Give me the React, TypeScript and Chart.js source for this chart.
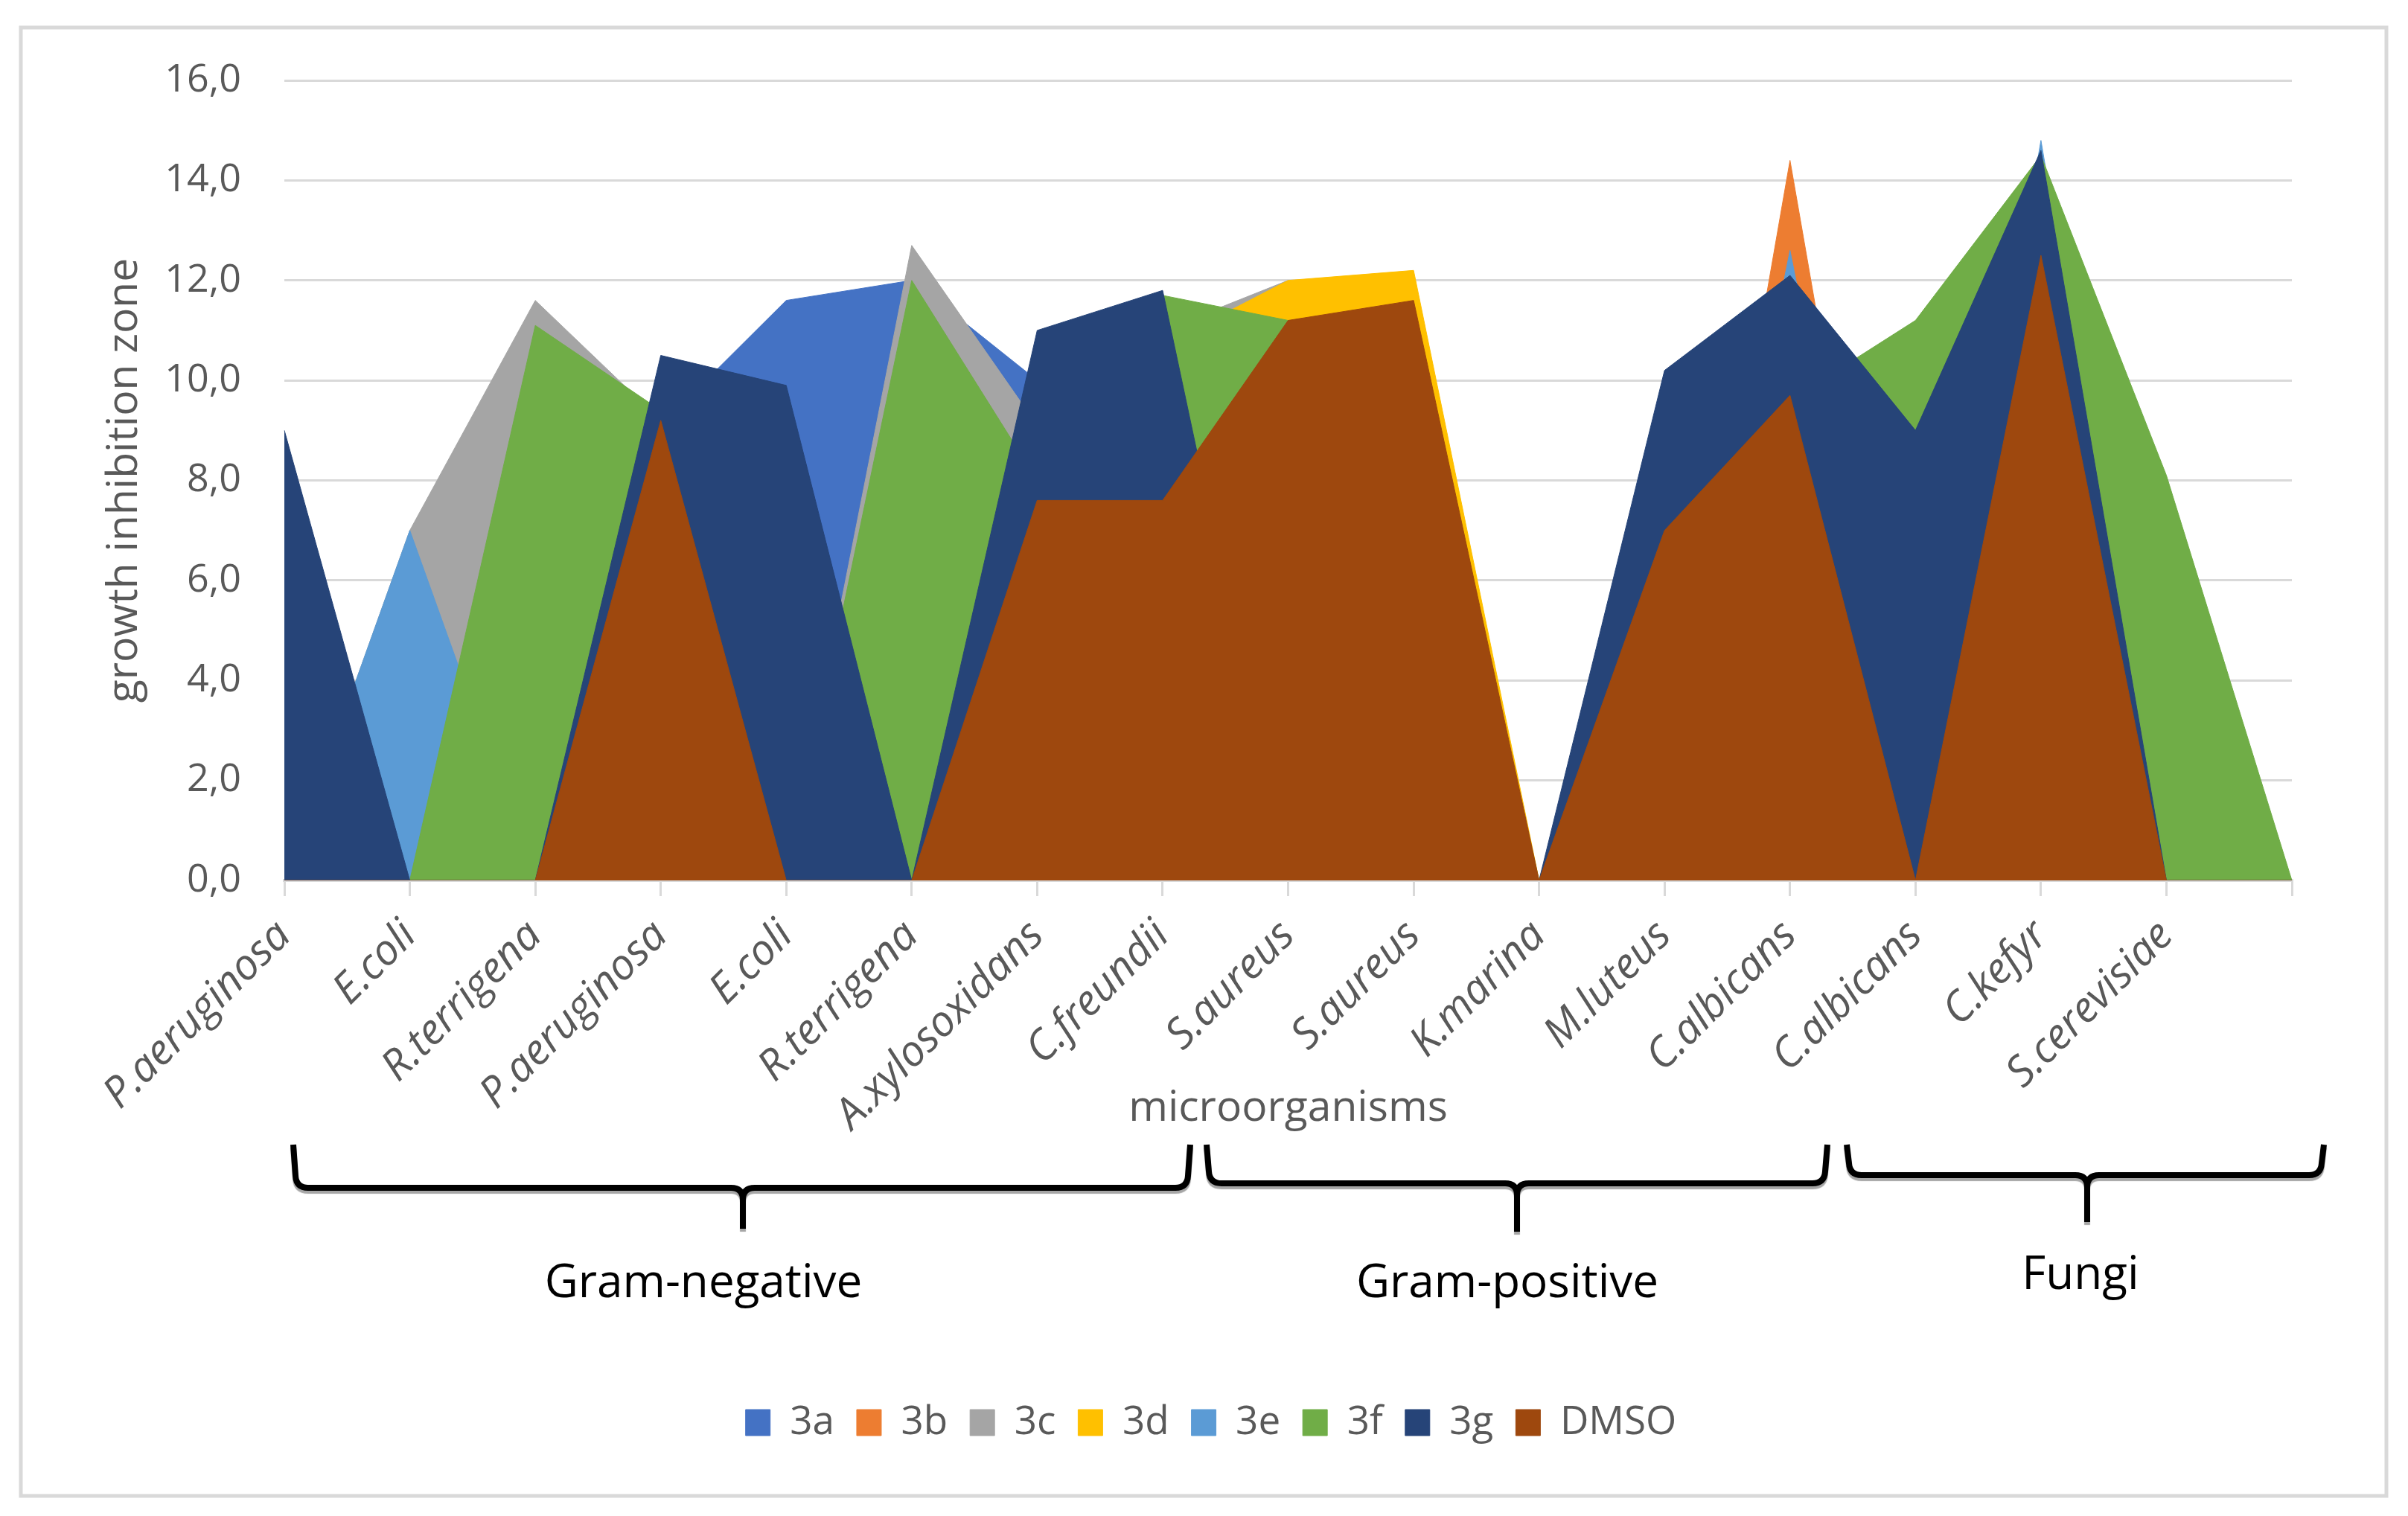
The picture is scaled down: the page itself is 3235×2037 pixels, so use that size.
import React, { useEffect, useRef } from "react";
import { Chart, registerables } from "chart.js";

Chart.register(...registerables);

// categories (last one is the empty end point of the axis)
const categories = [
  "P.aeruginosa", "E.coli", "R.terrigena", "P.aeruginosa", "E.coli", "R.terrigena",
  "A.xylosoxidans", "C.freundii", "S.aureus", "S.aureus", "K.marina", "M.luteus",
  "C.albicans", "C.albicans", "C.kefyr", "S.cerevisiae", "",
];

const seriesNames = ["3a", "3b", "3c", "3d", "3e", "3f", "3g", "DMSO"];
const seriesColors = ["#4472C4", "#ED7D31", "#A5A5A5", "#FFC000", "#5B9BD5", "#70AD47", "#264478", "#9E480E"];

const values3a = [0, 0, 0, 9.1, 11.6, 12.0, 10.0, 0, 0, 0, 0, 0, 0, 0, 0, 0, 0];
const values3b = [0, 0, 0, 0, 0, 0, 0, 0, 0, 0, 0, 0, 14.4, 0, 0, 0, 0];
const values3c = [0, 7.0, 11.6, 9.2, 0, 12.7, 9.1, 11.0, 12.0, 0, 0, 0, 0, 0, 0, 0, 0];
const values3d = [0, 0, 0, 0, 0, 0, 0, 10.7, 12.0, 12.2, 0, 0, 0, 0, 0, 0, 0];
const values3e = [0, 7.0, 0, 0, 0, 0, 0, 0, 0, 0, 0, 0, 12.6, 0, 14.8, 0, 0];
const values3f = [0, 0, 11.1, 9.4, 0, 12.0, 8.0, 11.7, 11.2, 11.0, 0, 9.0, 9.6, 11.2, 14.5, 8.1, 0];
const values3g = [9.0, 0, 0, 10.5, 9.9, 0, 11.0, 11.8, 0, 0, 0, 10.2, 12.1, 9.0, 14.6, 0, 0];
const valuesDMSO = [0, 0, 0, 9.2, 0, 0, 7.6, 7.6, 11.2, 11.6, 0, 7.0, 9.7, 0, 12.5, 0, 0];

const allValues = [values3a, values3b, values3c, values3d, values3e, values3f, values3g, valuesDMSO];

const yTicks = [0, 2, 4, 6, 8, 10, 12, 14, 16];

const groups = [
  { label: "Gram-negative", x1: 394, x2: 1599, yLine: 1596, tipX: 998, tipY: 1651, textX: 945, textY: 1725 },
  { label: "Gram-positive", x1: 1621, x2: 2455, yLine: 1590, tipX: 2038, tipY: 1655, textX: 2025, textY: 1725 },
  { label: "Fungi", x1: 2481, x2: 3122, yLine: 1579, tipX: 2804, tipY: 1642, textX: 2795, textY: 1714 },
];

const FONT = "'Open Sans', 'Noto Sans', sans-serif";
const GREY_TEXT = "#595959";

function drawBrace(ctx: CanvasRenderingContext2D, g: typeof groups[number]) {
  const top = 1538;
  const r = 16;
  ctx.beginPath();
  ctx.moveTo(g.x1, top);
  ctx.lineTo(g.x1 + 3, g.yLine - r);
  ctx.quadraticCurveTo(g.x1 + 4, g.yLine, g.x1 + r + 4, g.yLine);
  ctx.lineTo(g.tipX - r, g.yLine);
  ctx.quadraticCurveTo(g.tipX, g.yLine, g.tipX, g.yLine + r);
  ctx.lineTo(g.tipX, g.tipY);
  ctx.moveTo(g.tipX, g.yLine + r);
  ctx.quadraticCurveTo(g.tipX, g.yLine, g.tipX + r, g.yLine);
  ctx.lineTo(g.x2 - r - 4, g.yLine);
  ctx.quadraticCurveTo(g.x2 - 4, g.yLine, g.x2 - 3, g.yLine - r);
  ctx.lineTo(g.x2, top);
  ctx.stroke();
}

const extrasPlugin = {
  id: "extras",
  beforeDraw(chart: Chart) {
    const ctx = chart.ctx;
    ctx.save();
    ctx.fillStyle = "#ffffff";
    ctx.fillRect(0, 0, chart.width, chart.height);
    ctx.strokeStyle = "#D9D9D9";
    ctx.lineWidth = 5;
    ctx.strokeRect(28, 37, 3178, 1973);
    ctx.restore();
  },
  afterDraw(chart: Chart) {
    const ctx = chart.ctx;
    const area = chart.chartArea;
    ctx.save();
    // axis titles
    ctx.fillStyle = GREY_TEXT;
    ctx.textAlign = "center";
    ctx.textBaseline = "middle";
    ctx.font = `57px ${FONT}`;
    ctx.fillText("microorganisms", (area.left + area.right) / 2, 1490);
    ctx.save();
    ctx.translate(168, (area.top + area.bottom) / 2);
    ctx.rotate(-Math.PI / 2);
    ctx.fillText("growth inhibition zone", 0, 0);
    ctx.restore();

    // group braces
    ctx.strokeStyle = "#000000";
    ctx.lineWidth = 8;
    ctx.lineCap = "butt";
    ctx.lineJoin = "round";
    ctx.shadowColor = "rgba(0,0,0,0.35)";
    ctx.shadowOffsetY = 4;
    ctx.shadowBlur = 1;
    groups.forEach((g) => drawBrace(ctx, g));
    ctx.shadowColor = "transparent";

    ctx.fillStyle = "#000000";
    ctx.font = `62px ${FONT}`;
    groups.forEach((g) => ctx.fillText(g.label, g.textX, g.textY));
    ctx.restore();
  },
};

const App: React.FC = () => {
  const canvasRef = useRef<HTMLCanvasElement | null>(null);

  useEffect(() => {
    const ctx = canvasRef.current?.getContext("2d");
    if (!ctx) return;

    const datasets = seriesNames.map((name, i) => ({
      label: name,
      data: allValues[i],
      backgroundColor: seriesColors[i],
      borderColor: seriesColors[i],
      borderWidth: 1,
      fill: "origin",
      pointRadius: 0,
      pointHoverRadius: 0,
      tension: 0,
      // later series are painted on top (DMSO in front)
      order: seriesNames.length - i,
    }));

    const chart = new Chart(ctx, {
      type: "line",
      data: { labels: categories, datasets },
      options: {
        animation: false,
        responsive: true,
        maintainAspectRatio: false,
        layout: { padding: { left: 175, right: 156, top: 108, bottom: 89 } },
        plugins: {
          tooltip: { enabled: false },
          legend: {
            position: "bottom",
            labels: {
              boxWidth: 33,
              boxHeight: 35,
              padding: 30,
              color: GREY_TEXT,
              font: { family: FONT, size: 53 },
              sort: (a: any, b: any) => a.datasetIndex - b.datasetIndex,
            },
          },
        },
        scales: {
          x: {
            offset: false,
            afterFit: (scale: any) => {
              scale.height = 672;
            },
            grid: {
              drawOnChartArea: false,
              drawTicks: true,
              tickLength: 21,
              color: "#D9D9D9",
              lineWidth: 3,
            },
            border: { display: true, color: "#D9D9D9", width: 4 },
            ticks: {
              autoSkip: false,
              maxRotation: 45,
              minRotation: 45,
              padding: 20,
              color: GREY_TEXT,
              font: { family: FONT, size: 57, style: "italic" },
            },
          },
          y: {
            min: 0,
            max: 16,
            afterFit: (scale: any) => {
              scale.width = 207;
            },
            afterBuildTicks: (scale: any) => {
              scale.ticks = yTicks.map((v) => ({ value: v }));
            },
            grid: { color: "#D9D9D9", lineWidth: 3, drawTicks: false },
            border: { display: false },
            ticks: {
              padding: 58,
              color: GREY_TEXT,
              font: { family: FONT, size: 52 },
              callback: (value: any) => Number(value).toFixed(1).replace(".", ","),
            },
          },
        },
      },
      plugins: [extrasPlugin],
    });

    return () => {
      chart.destroy();
    };
  }, []);

  return (
    <div
      style={{
        position: "fixed",
        left: 0,
        top: 0,
        width: "3235px",
        height: "2037px",
        background: "#ffffff",
      }}
    >
      <canvas ref={canvasRef}></canvas>
    </div>
  );
};

export default App;
